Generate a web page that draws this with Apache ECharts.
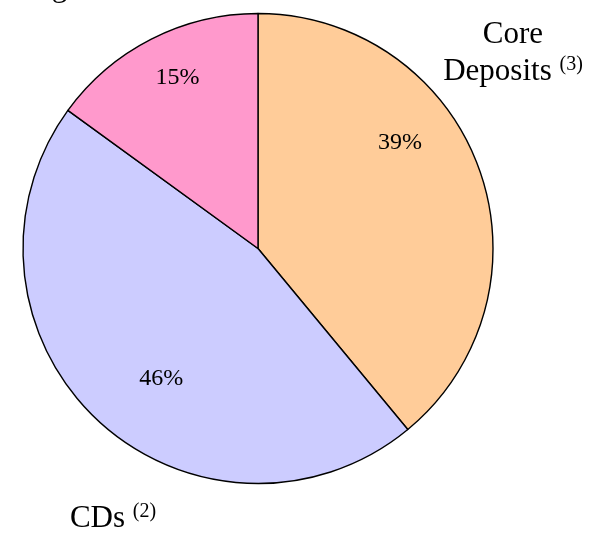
<!DOCTYPE html>
<html>
<head>
<meta charset="utf-8">
<script src="https://cdn.jsdelivr.net/npm/echarts@6/dist/echarts.min.js"></script>
<style>
  html, body { margin: 0; padding: 0; background: #ffffff; }
  #chart { width: 605px; height: 534px; }
</style>
</head>
<body>
<div id="chart"></div>
<script>
// Funding mix
const categories = ['Core Deposits', 'CDs', 'Borrowings'];
const shares = [39, 46, 15];
const footnotes = ['(3)', '(2)', ''];
const sliceColors = ['#FFCC99', '#CCCCFF', '#FF99CC'];

// Pie geometry and label placement
const CX = 258, CY = 248.5, R = 235;
const pctSpots = [[53.3, 177], [216.7, 162], [334.8, 189]]; // bearing (deg clockwise from top), distance from centre
const nameSpots = [[513, 53.5], [113, 518.5], [6, -12]];

const FONT = '"Liberation Serif", "Times New Roman", serif';

function polar(bearing, dist) {
  const a = bearing * Math.PI / 180;
  return [CX + dist * Math.sin(a), CY - dist * Math.cos(a)];
}

function nameLabel(idx) {
  const words = categories[idx].split(' ');
  const note = footnotes[idx] ? '{gap| }{sup|' + footnotes[idx] + '}' : '';
  return words.map((w, i) => '{n|' + w + '}' + (i === words.length - 1 ? note : '')).join('\n');
}

const pieData = categories.map((c, i) => ({
  name: c,
  value: shares[i],
  itemStyle: { color: sliceColors[i] }
}));

const chart = echarts.init(document.getElementById('chart'), null, { renderer: 'canvas' });

chart.setOption({
  backgroundColor: '#ffffff',
  animation: false,
  series: [
    {
      type: 'pie',
      center: [CX, CY],
      radius: R,
      startAngle: 90,
      clockwise: true,
      silent: true,
      itemStyle: { borderColor: '#000000', borderWidth: 1.4 },
      label: {
        show: true,
        position: 'inside',
        formatter: p => p.value + '%',
        fontFamily: FONT,
        fontSize: 24,
        color: '#000000'
      },
      labelLayout: p => {
        const [x, y] = polar(pctSpots[p.dataIndex][0], pctSpots[p.dataIndex][1]);
        return { x, y, align: 'center', verticalAlign: 'middle' };
      },
      data: pieData
    },
    {
      type: 'pie',
      center: [CX, CY],
      radius: R,
      startAngle: 90,
      clockwise: true,
      silent: true,
      itemStyle: { color: 'rgba(0,0,0,0)', borderWidth: 0 },
      label: {
        show: true,
        position: 'inside',
        formatter: p => nameLabel(p.dataIndex),
        fontFamily: FONT,
        color: '#000000',
        rich: {
          n: { fontFamily: FONT, fontSize: 31, lineHeight: 37, color: '#000000' },
          gap: { fontFamily: FONT, fontSize: 31, lineHeight: 37, color: '#000000' },
          sup: { fontFamily: FONT, fontSize: 20, lineHeight: 37, color: '#000000', padding: [0, 0, 14, 0] }
        }
      },
      labelLayout: p => {
        const s = nameSpots[p.dataIndex];
        return { x: s[0], y: s[1], align: 'center', verticalAlign: 'middle' };
      },
      data: categories.map((c, i) => ({ name: c, value: shares[i] }))
    }
  ]
});
</script>
</body>
</html>
